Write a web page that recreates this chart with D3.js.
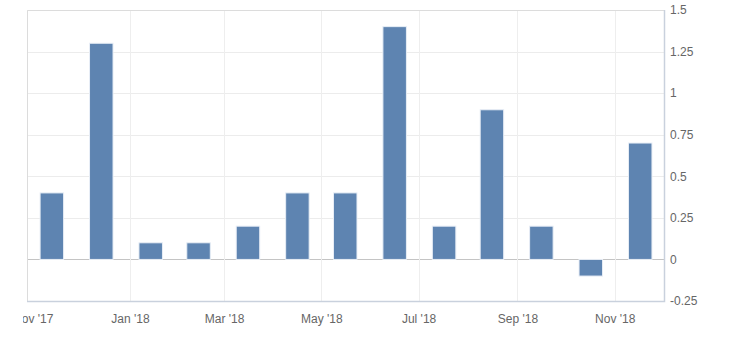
<!DOCTYPE html>
<html>
<head>
<meta charset="utf-8">
<script src="https://cdn.jsdelivr.net/npm/d3@7"></script>
<style>
  body { margin: 0; background: #fff; }
  text { font-family: "Liberation Sans", Arial, sans-serif; }
</style>
</head>
<body>
<script>
var width = 730,
    height = 341;

// data (monthly)
var dates = ["2017-11-13", "2017-12-14", "2018-01-14", "2018-02-13", "2018-03-16", "2018-04-16",
             "2018-05-16", "2018-06-16", "2018-07-17", "2018-08-16", "2018-09-16", "2018-10-17", "2018-11-17"];
var values = [0.4, 1.3, 0.1, 0.1, 0.2, 0.4, 0.4, 1.4, 0.2, 0.9, 0.2, -0.1, 0.7];
var yTicks = [-0.25, 0, 0.25, 0.5, 0.75, 1, 1.25, 1.5];
var xTickDates = ["2017-11-01", "2018-01-01", "2018-03-01", "2018-05-01", "2018-07-01", "2018-09-01", "2018-11-01"];

var parse = d3.timeParse("%Y-%m-%d");
var data = dates.map(function(d, i) { return {date: parse(d), value: values[i]}; });

// plot box (window.top is reserved, so m.* names)
var m = {left: 27, right: 664, top: 10, bottom: 301};

var svg = d3.select("body").append("svg")
    .attr("width", width)
    .attr("height", height);

var x = d3.scaleTime()
    .domain([new Date(2017, 9, 28, 10), new Date(2018, 11, 1, 22)])
    .range([m.left, m.right]);

var y = d3.scaleLinear()
    .domain([-0.25, 1.5])
    .range([m.bottom, m.top]);

svg.append("defs").append("clipPath")
    .attr("id", "lab")
  .append("rect")
    .attr("x", 23).attr("y", 0)
    .attr("width", width - 23).attr("height", height);

// horizontal grid
svg.append("g")
  .selectAll("line")
  .data(yTicks)
  .enter().append("line")
    .attr("x1", m.left).attr("x2", m.right)
    .attr("y1", function(d) { return Math.round(y(d)) + 0.5; })
    .attr("y2", function(d) { return Math.round(y(d)) + 0.5; })
    .attr("stroke", function(d) { return d === 0 ? "#c4c4c4" : "#ececec"; })
    .attr("stroke-width", 1);

// vertical grid
svg.append("g")
  .selectAll("line")
  .data(xTickDates.slice(1).map(parse))
  .enter().append("line")
    .attr("x1", function(d) { return Math.round(x(d)) + 0.5; })
    .attr("x2", function(d) { return Math.round(x(d)) + 0.5; })
    .attr("y1", m.top).attr("y2", m.bottom)
    .attr("stroke", "#eeeeee");

// plot border
svg.append("path")
    .attr("d", "M" + (m.left + 0.5) + "," + m.bottom + "V" + (m.top + 0.5) + "H" + (m.right + 0.5))
    .attr("fill", "none")
    .attr("stroke", "#dcdcdc");
svg.append("path")
    .attr("d", "M" + (m.right + 0.5) + "," + m.top + "V" + (m.bottom + 0.5) + "H" + m.left)
    .attr("fill", "none")
    .attr("stroke", "#c9d1dd")
    .attr("stroke-width", 1.5);

// bars
var barW = 23.5;
svg.append("g")
  .selectAll("rect")
  .data(data)
  .enter().append("rect")
    .attr("x", function(d) { return x(d.date) - barW / 2; })
    .attr("y", function(d) { return y(Math.max(0, d.value)); })
    .attr("width", barW)
    .attr("height", function(d) { return Math.abs(y(d.value) - y(0)); })
    .attr("fill", "#5e84b1")
    .attr("stroke", "#e8eef6")
    .attr("stroke-width", 1);

// y labels on the right
var yAxis = d3.axisRight(y)
    .tickValues(yTicks)
    .tickSize(0)
    .tickPadding(6)
    .tickFormat(function(d) { return String(d); });

svg.append("g")
    .attr("transform", "translate(" + m.right + ",0)")
    .call(yAxis)
    .call(function(g) { g.select(".domain").remove(); })
    .selectAll("text")
    .attr("fill", "#666")
    .style("font-size", "12px");

// x labels
var xAxis = d3.axisBottom(x)
    .tickValues(xTickDates.map(parse))
    .tickSize(0)
    .tickPadding(0)
    .tickFormat(d3.timeFormat("%b '%y"));

svg.append("g")
    .attr("transform", "translate(0," + 314 + ")")
    .attr("clip-path", "url(#lab)")
    .call(xAxis)
    .call(function(g) { g.select(".domain").remove(); })
    .selectAll("text")
    .attr("fill", "#666")
    .style("font-size", "12px");
</script>
</body>
</html>
